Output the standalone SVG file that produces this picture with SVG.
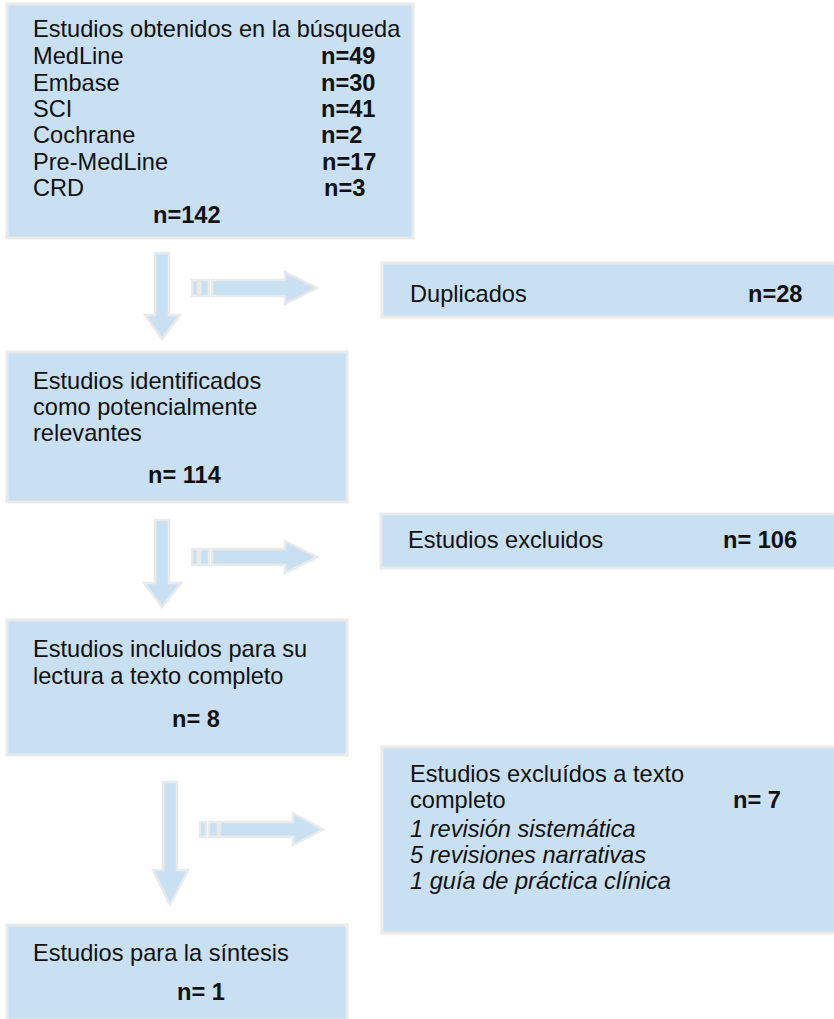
<svg xmlns="http://www.w3.org/2000/svg" width="834" height="1019" viewBox="0 0 834 1019">
<style>
.box{fill:#c9dff2;stroke:#e9eaea;stroke-width:3}
.arr{fill:#c9dff2;stroke:#e9eaea;stroke-width:2.5;stroke-linejoin:miter}
text{font-family:"Liberation Sans",Arial,sans-serif;font-size:23.6px;fill:#111}
.b{font-weight:bold}
.i{font-style:italic}
</style>
<rect width="834" height="1019" fill="#ffffff"/>
<g id="connectors">
  <path class="arr" d="M155,253 H169 V315 H180 L162,339 L145,315 H155 Z"/>
  <rect class="arr" x="192" y="280" width="6" height="16"/>
  <rect class="arr" x="200" y="280" width="9" height="16"/>
  <path class="arr" d="M212,280 H285 V272 L317,288 L285,304 V296 H212 Z"/>
  <path class="arr" d="M155,520 H169 V583 H181 L162,607 L144,583 H155 Z"/>
  <rect class="arr" x="192" y="549" width="6" height="16"/>
  <rect class="arr" x="200" y="549" width="9" height="16"/>
  <path class="arr" d="M212,549 H285 V541 L317,557 L285,573 V565 H212 Z"/>
  <path class="arr" d="M163,782 H177 V870 H188 L170,905 L153,870 H163 Z"/>
  <rect class="arr" x="200" y="822" width="6" height="15"/>
  <rect class="arr" x="209" y="822" width="9" height="15"/>
  <path class="arr" d="M220,822 H293 V813 L323,829.5 L293,845 V837 H220 Z"/>
</g>
<g id="n1">
  <rect class="box" x="7" y="4" width="406" height="234"/>
  <text x="33" y="37">Estudios obtenidos en la búsqueda</text>
  <text x="33" y="64">MedLine</text><text class="b" x="321" y="64">n=49</text>
  <text x="33" y="91">Embase</text><text class="b" x="321" y="91">n=30</text>
  <text x="33" y="117">SCI</text><text class="b" x="321" y="117">n=41</text>
  <text x="33" y="143">Cochrane</text><text class="b" x="321" y="143">n=2</text>
  <text x="33" y="170">Pre-MedLine</text><text class="b" x="322" y="170">n=17</text>
  <text x="33" y="196">CRD</text><text class="b" x="324" y="196">n=3</text>
  <text class="b" x="153" y="223">n=142</text>
</g>
<g id="n2">
  <rect class="box" x="382" y="263" width="455" height="54"/>
  <text x="410" y="302">Duplicados</text>
  <text class="b" x="748" y="302">n=28</text>
</g>
<g id="n3">
  <rect class="box" x="7" y="352" width="340" height="150"/>
  <text x="33" y="389">Estudios identificados</text>
  <text x="33" y="415">como potencialmente</text>
  <text x="33" y="441">relevantes</text>
  <text class="b" x="148" y="483">n= 114</text>
</g>
<g id="n4">
  <rect class="box" x="381" y="514" width="456" height="54"/>
  <text x="408" y="548">Estudios excluidos</text>
  <text class="b" x="723" y="548">n= 106</text>
</g>
<g id="n5">
  <rect class="box" x="7" y="620" width="340" height="135"/>
  <text x="33" y="657">Estudios incluidos para su</text>
  <text x="33" y="684">lectura a texto completo</text>
  <text class="b" x="172" y="727">n= 8</text>
</g>
<g id="n6">
  <rect class="box" x="382" y="747" width="455" height="186"/>
  <text x="410" y="782">Estudios excluídos a texto</text>
  <text x="410" y="808">completo</text>
  <text class="b" x="733" y="808">n= 7</text>
  <text class="i" x="410" y="837">1 revisión sistemática</text>
  <text class="i" x="410" y="863">5 revisiones narrativas</text>
  <text class="i" x="410" y="889">1 guía de práctica clínica</text>
</g>
<g id="n7">
  <rect class="box" x="7" y="925" width="340" height="95"/>
  <text x="33" y="961">Estudios para la síntesis</text>
  <text class="b" x="177" y="1000">n= 1</text>
</g>
</svg>
